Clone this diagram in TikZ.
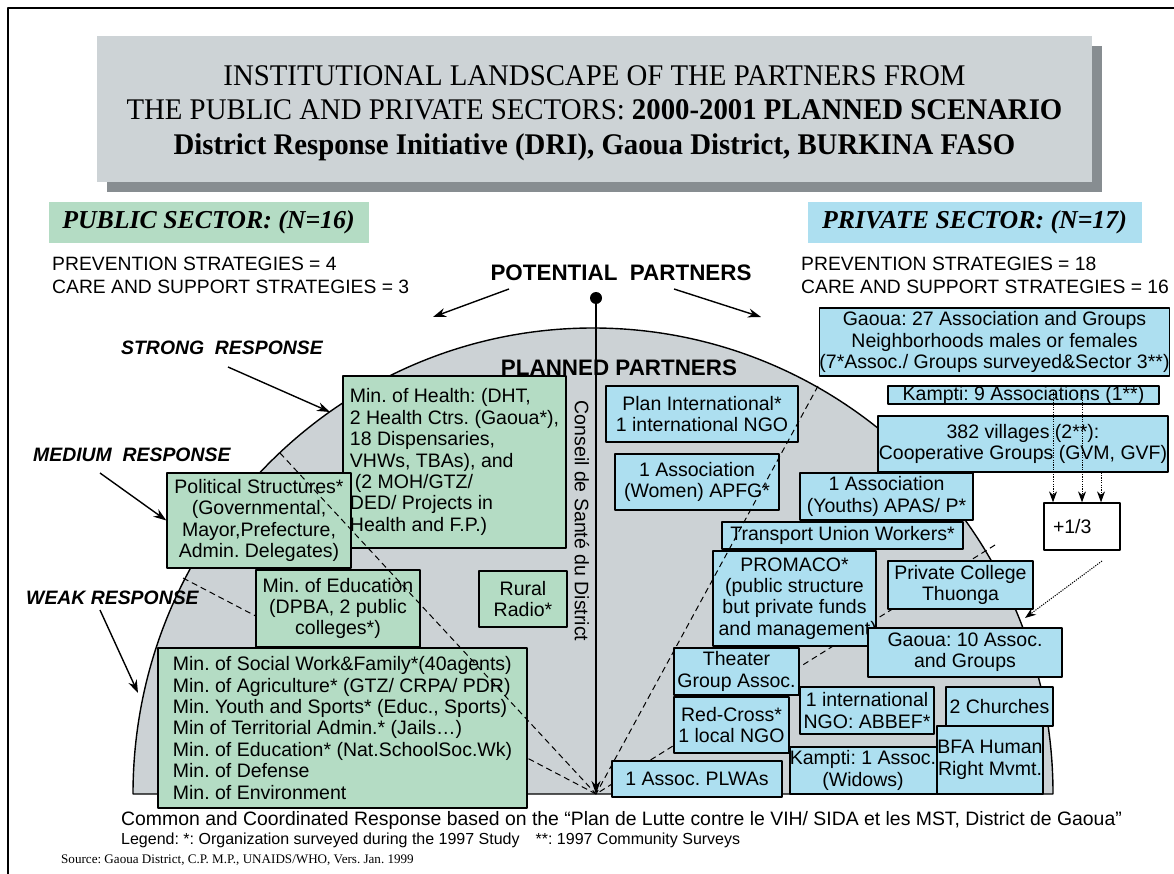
\documentclass[tikz,border=0pt]{standalone}
\usepackage{fontspec}
\setmainfont{Liberation Sans}
\newfontfamily\titlefont{Liberation Serif}[FakeStretch=0.96]
\newfontfamily\sectorfont{Liberation Serif}
\usetikzlibrary{arrows.meta}
\definecolor{pubgreen}{HTML}{B4DCC4}
\definecolor{privblue}{HTML}{ADDFF0}
\definecolor{domegray}{HTML}{CCD2D5}
\definecolor{titlegray}{HTML}{CDD3D6}
\definecolor{shadowgray}{HTML}{878D91}
\frenchspacing

\begin{document}
\begin{tikzpicture}[x=1pt,y=-1pt,>={Stealth[length=13pt,width=9pt]},line join=bevel,
  boxtext/.style={font=\fontsize{19.5}{21.4}\selectfont,inner sep=0pt,align=center},
  pubbox/.style={boxtext,draw=black,line width=1.3pt,fill=pubgreen},
  privbox/.style={boxtext,draw=black,line width=1.3pt,fill=privblue},
  sector/.style={font=\sectorfont\fontsize{25.8}{30}\selectfont\bfseries\itshape,inner sep=0pt},
  strategy/.style={font=\fontsize{19.3}{23}\selectfont,align=left,anchor=west,inner sep=0pt},
  response/.style={font=\fontsize{19.4}{22}\selectfont\bfseries\itshape,anchor=west,inner sep=0pt},
  heading/.style={font=\fontsize{22.4}{26}\selectfont\bfseries,inner sep=0pt},
  link/.style={black,line width=1pt,dash pattern=on 6pt off 4pt},
  feed/.style={->,black,line width=1pt,dash pattern=on 1.2pt off 1.2pt,>={Stealth[length=11pt,width=8pt]}},
  pointer/.style={->,black,line width=1.4pt}]
\useasboundingbox (0,0) rectangle (1174,874);
%%
\draw [line width=2.5pt] (8,874) -- (8,8) -- (1174,8);
\fill [shadowgray] (107,46) rectangle (1102,192);
\node (node_titlebox) at (594.5,109) [fill=titlegray,minimum width=995pt,minimum height=146pt,inner sep=0pt] {};
  \node (node_title) at (594.5,113) [inner sep=0pt,align=center,font=\titlefont\fontsize{30}{34.5}\selectfont] {INSTITUTIONAL LANDSCAPE OF THE PARTNERS FROM\\THE PUBLIC AND PRIVATE SECTORS: \textbf{2000-2001 PLANNED SCENARIO}\\\textbf{District Response Initiative (DRI), Gaoua District, BURKINA FASO}};
  \node (node_public) at (208.5,222.5) [sector,fill=pubgreen,minimum width=320pt,minimum height=41pt] {PUBLIC SECTOR: (N=16)};
  \node (node_private) at (974.5,222.5) [sector,fill=privblue,minimum width=334pt,minimum height=41pt] {PRIVATE SECTOR: (N=17)};
  \node (node_pubstrat) at (52,275.5) [strategy] {PREVENTION STRATEGIES = 4\\CARE AND SUPPORT STRATEGIES = 3};
  \node (node_privstrat) at (801,275.5) [strategy] {PREVENTION STRATEGIES = 18\\CARE AND SUPPORT STRATEGIES = 16};
  \node (node_potential) at (621,273) [heading] {POTENTIAL\ \ PARTNERS};
  \coordinate (c_potl) at (509,289);
  \coordinate (c_potlend) at (433,317);
  \coordinate (c_potr) at (674,289);
  \coordinate (c_potrend) at (761,317);
  \draw [pointer] (c_potl) -- (c_potlend);
  \draw [pointer] (c_potr) -- (c_potrend);
%
\fill [domegray] (133,794) arc[start angle=180,end angle=0,x radius=460pt,y radius=466pt] -- cycle;
\draw [line width=1.4pt] (133,794) arc[start angle=180,end angle=0,x radius=460pt,y radius=466pt] -- cycle;
  \coordinate (node_hub) at (596,794);
  \coordinate (c_leftback) at (183,578);
  \coordinate (c_rightback) at (995,545);
  \draw [link] (c_leftback) -- (node_hub);
  \draw [link] (c_rightback) -- (node_hub);
  \node (node_planned) at (619,368) [heading] {PLANNED PARTNERS};
  \node (node_dot) at (596,298) [circle,fill=black,inner sep=0pt,minimum size=12pt] {};
  \draw [pointer] (node_dot) -- (node_hub);
  \node (node_conseil) at (582,521) [rotate=-90,inner sep=0pt,font=\fontsize{19.5}{22}\selectfont] {Conseil de Santé du District};
%
  \node (node_strong) at (121,348) [response] {STRONG\ \ RESPONSE};
  \node (node_medium) at (33,455) [response] {MEDIUM\ \ RESPONSE};
  \node (node_weak) at (26,598) [response] {WEAK RESPONSE};
  \coordinate (c_strong) at (228,367);
  \coordinate (c_strongend) at (330,412);
  \coordinate (c_medium) at (100,473);
  \coordinate (c_weak) at (100,610);
  \coordinate (c_weakend) at (138,693);
  \draw [pointer] (c_strong) -- (c_strongend);
  \draw [pointer] (c_weak) -- (c_weakend);
%
  \node (node_health) at (454.5,462) [pubbox,minimum width=223pt,minimum height=172pt,align=left] {Min. of Health: (DHT,\\2 Health Ctrs. (Gaoua*),\\18 Dispensaries,\\VHWs, TBAs), and\\\hspace*{5pt}(2 MOH/GTZ/\\DED/ Projects in\\Health and F.P.)};
  \node (node_political) at (259,520.5) [pubbox,minimum width=184pt,minimum height=95pt] {Political Structures*\\(Governmental,\\Mayor,Prefecture,\\Admin. Delegates)};
  \node (node_education) at (338,608.5) [pubbox,minimum width=164pt,minimum height=77pt] {Min. of Education\\(DPBA, 2 public\\colleges*)};
  \node (node_radio) at (523,599) [pubbox,minimum width=88pt,minimum height=56pt] {Rural\\Radio*};
  \node (node_ministries) at (342.5,728) [pubbox,minimum width=369pt,minimum height=160pt,align=left] {Min. of Social Work\&Family*(40agents)\\Min. of Agriculture* (GTZ/ CRPA/ PDR)\\Min. Youth and Sports* (Educ., Sports)\\Min of Territorial Admin.* (Jails…)\\Min. of Education* (Nat.SchoolSoc.Wk)\\Min. of Defense\\Min. of Environment};
  \draw [pointer] (c_medium) -- (node_political.west);
%
  \node (node_gaoua27) at (994.5,342) [privbox,minimum width=349pt,minimum height=68pt] {Gaoua: 27 Association and Groups\\Neighborhoods males or females\\(7*Assoc./ Groups surveyed\&Sector 3**)};
  \node (node_kampti9) at (1023.5,395) [privbox,minimum width=271pt,minimum height=18pt] {Kampti: 9 Associations (1**)};
  \node (node_villages) at (1023,444) [privbox,minimum width=290pt,minimum height=56pt] {382 villages (2**):\\Cooperative Groups (GVM, GVF)};
  \node (node_plan) at (702,414) [privbox,minimum width=192pt,minimum height=56pt] {Plan International*\\1 international NGO};
  \node (node_women) at (697,482) [privbox,minimum width=164pt,minimum height=56pt] {1 Association\\(Women) APFG*};
  \node (node_youths) at (886.5,496.5) [privbox,minimum width=173pt,minimum height=47pt] {1 Association\\(Youths) APAS/ P*};
  \node (node_transport) at (842.5,535.5) [privbox,minimum width=241pt,minimum height=27pt] {Transport Union Workers*};
  \node (node_promaco) at (794.5,598.5) [privbox,minimum width=163pt,minimum height=95pt] {PROMACO*\\(public structure\\but private funds\\and management\rlap{)}};
  \node (node_college) at (960.5,585) [privbox,minimum width=145pt,minimum height=48pt] {Private College\\Thuonga};
  \node (node_gaoua10) at (965,652.5) [privbox,minimum width=194pt,minimum height=49pt] {Gaoua: 10 Assoc.\\and Groups};
  \node (node_theater) at (736.5,671.5) [privbox,minimum width=125pt,minimum height=47pt] {Theater\\Group Assoc.};
  \node (node_redcross) at (731.5,725) [privbox,minimum width=115pt,minimum height=56pt] {Red-Cross*\\1 local NGO};
  \node (node_abbef) at (867,710.5) [privbox,minimum width=134pt,minimum height=47pt] {1 international\\NGO: ABBEF*};
  \node (node_churches) at (999.5,706.5) [privbox,minimum width=107pt,minimum height=39pt] {2 Churches};
  \node (node_plwa) at (697,779) [privbox,minimum width=170pt,minimum height=36pt] {1 Assoc. PLWAs};
  \node (node_widows) at (863,770.5) [privbox,minimum width=146pt,minimum height=47pt] {Kampti: 1 Assoc.\\(Widows)};
  \node (node_bfa) at (990,760) [privbox,minimum width=106pt,minimum height=68pt] {BFA Human\\Right Mvmt.};
  \node (node_plusthird) at (1082,526.5) [boxtext,draw=black,line width=1.3pt,fill=white,minimum width=76pt,minimum height=47pt,text width=58pt,align=left] {+1/3};
%
  \coordinate (c_leftfront) at (280,453);
  \coordinate (c_rightfront) at (818,386);
  \draw [link] (c_leftfront) -- (node_hub);
  \draw [link] (c_rightfront) -- (node_hub);
  \coordinate (c_k1) at (1053,390);
  \coordinate (c_k2) at (1082,390);
  \coordinate (c_k3) at (1101,390);
  \draw [feed] (c_k1) -- (node_plusthird.north -| c_k1);
  \draw [feed] (c_k2) -- (node_plusthird.north -| c_k2);
  \draw [feed] (node_villages.south -| c_k3) -- (node_plusthird.north -| c_k3);
  \coordinate (c_third) at (1102,561);
  \coordinate (c_college) at (1025,618);
  \draw [feed] (c_third) -- (c_college);
%
  \node (node_common) at (121,820) [anchor=west,inner sep=0pt,font=\fontsize{19.4}{21}\selectfont] {Common and Coordinated Response based on the “Plan de Lutte contre le VIH/ SIDA et les MST, District de Gaoua”};
  \node (node_legend) at (121,840) [anchor=west,inner sep=0pt,font=\fontsize{16}{17}\selectfont] {Legend: *: Organization surveyed during the 1997 Study\hspace{1em}**: 1997 Community Surveys};
  \node (node_source) at (61,860) [anchor=west,inner sep=0pt,font=\sectorfont\fontsize{13.1}{15}\selectfont] {Source: Gaoua District, C.P. M.P., UNAIDS/WHO, Vers. Jan. 1999};
%
\end{tikzpicture}
\end{document}
